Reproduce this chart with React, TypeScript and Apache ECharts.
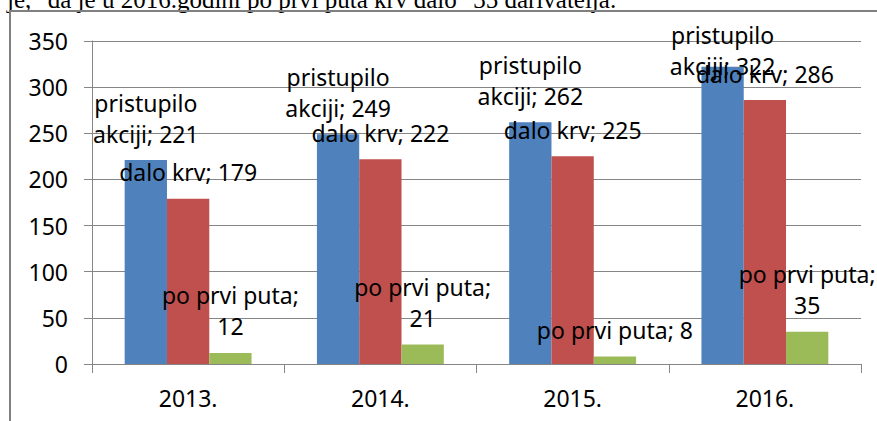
import React, { useEffect, useRef } from "react";
import * as echarts from "echarts";

const categories = ["2013.", "2014.", "2015.", "2016."];
const seriesNames = ["pristupilo akciji", "dalo krv", "po prvi puta"];
const pristupilo = [221, 249, 262, 322];
const daloKrv = [179, 222, 225, 286];
const poPrviPuta = [12, 21, 8, 35];
const yTicks = { min: 0, max: 350, interval: 50 };
const captionText = 'je, "da je u 2016.godini po prvi puta krv dalo "35 darivatelja.';

const colors = ["#4F81BD", "#C0504D", "#9BBB59"];
const FONT = "'Noto Sans', 'Open Sans', sans-serif";

export default function App() {
  const ref = useRef<HTMLDivElement>(null);
  useEffect(() => {
    if (!ref.current) return;
    const chart = echarts.init(ref.current, null, { renderer: "svg" });

    const labelBase = {
      show: true,
      position: "top",
      distance: 11,
      color: "#000",
      fontFamily: FONT,
      fontSize: 23,
      lineHeight: 31,
    };

    const blueData = pristupilo.map((v, i) => ({
      value: v,
      label: {
        formatter: "pristupilo\nakciji; " + v,
        offset: i === 3 ? [0, 26] : [0, 0],
      },
    }));
    const redData = daloKrv.map((v) => ({
      value: v,
      label: { formatter: "dalo krv; " + v },
    }));
    const greenData = poPrviPuta.map((v, i) => ({
      value: v,
      label: { formatter: i === 2 ? "po prvi puta; " + v : "po prvi puta;\n" + v },
    }));

    const mk = (name: string, data: any[], color: string) => ({
      name,
      type: "bar",
      data,
      itemStyle: { color },
      barGap: "0%",
      barCategoryGap: "34%",
      label: labelBase,
    });

    chart.setOption({
      animation: false,
      grid: { left: 92, right: 16, top: 41, bottom: 57 },
      xAxis: {
        type: "category",
        data: categories,
        axisLine: { show: true, lineStyle: { color: "#868686", width: 1 } },
        axisTick: { show: true, length: 9, lineStyle: { color: "#868686" } },
        axisLabel: { color: "#000", fontFamily: FONT, fontSize: 23, margin: 22 },
      },
      yAxis: {
        type: "value",
        min: yTicks.min,
        max: yTicks.max,
        interval: yTicks.interval,
        axisLine: { show: true, lineStyle: { color: "#868686", width: 1 } },
        axisTick: { show: true, length: 8, lineStyle: { color: "#868686" } },
        axisLabel: { color: "#000", fontFamily: FONT, fontSize: 23, margin: 24 },
        splitLine: { show: true, lineStyle: { color: "#868686", width: 1 } },
      },
      series: [
        mk(seriesNames[0], blueData, colors[0]),
        mk(seriesNames[1], redData, colors[1]),
        mk(seriesNames[2], greenData, colors[2]),
      ],
      graphic: [
        {
          type: "text",
          x: 7,
          y: -13,
          style: {
            text: captionText,
            fontFamily: "'Liberation Serif', 'Times New Roman', serif",
            fontSize: 25,
            fill: "#000",
            verticalAlign: "top",
          },
          silent: true,
        },
        {
          type: "line",
          shape: { x1: 10, y1: 11, x2: 877, y2: 11 },
          style: { stroke: "#808080", lineWidth: 2 },
          silent: true,
        },
        {
          type: "line",
          shape: { x1: 10, y1: 10, x2: 10, y2: 421 },
          style: { stroke: "#808080", lineWidth: 2 },
          silent: true,
        },
      ],
    });
    return () => chart.dispose();
  }, []);

  return (
    <div
      ref={ref}
      style={{ position: "fixed", left: 0, top: 0, width: 877, height: 421, background: "#fff" }}
    />
  );
}
